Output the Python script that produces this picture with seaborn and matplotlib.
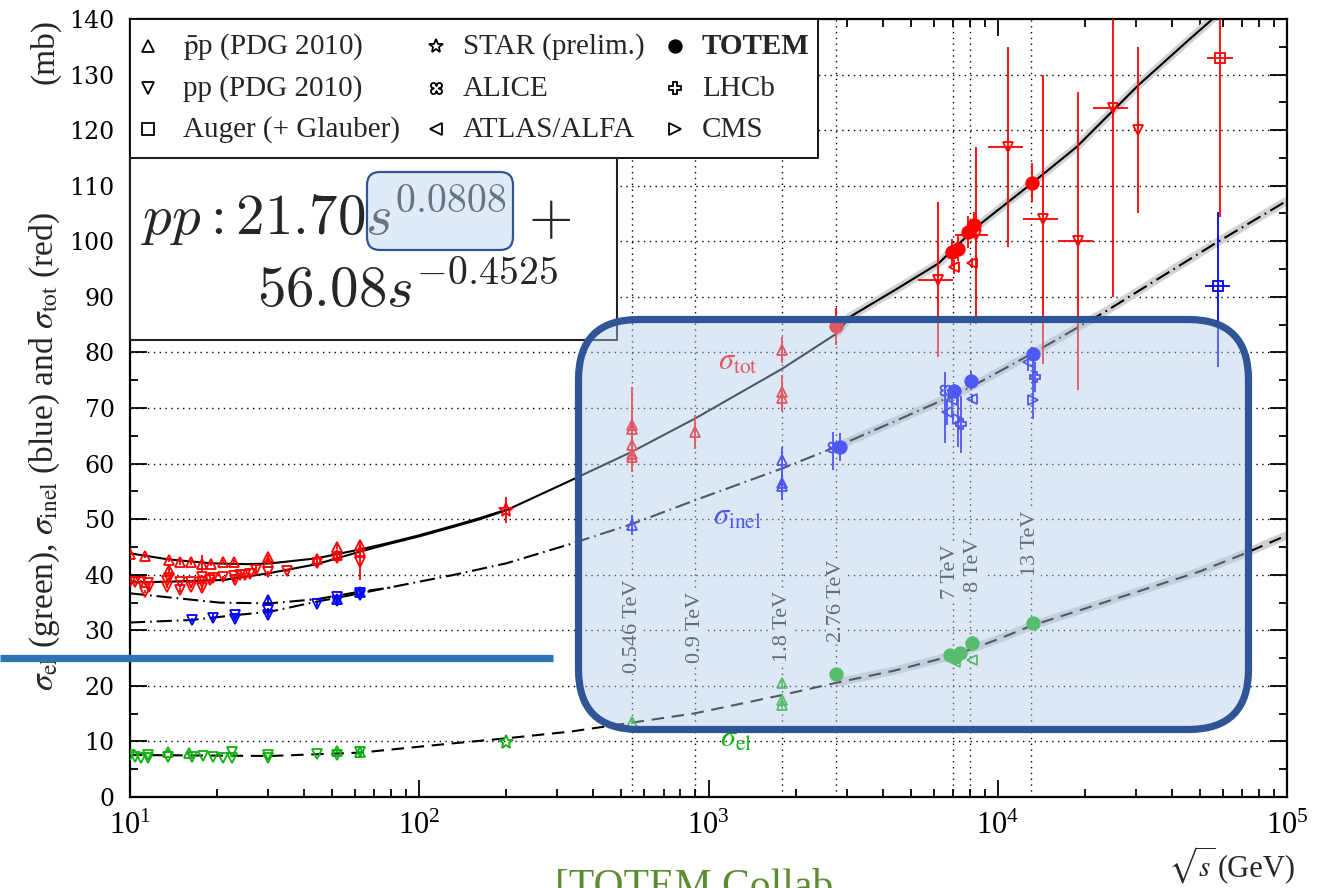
import numpy as np
import pandas as pd
import matplotlib
matplotlib.use("Agg")
import matplotlib.pyplot as plt
import seaborn as sns
from matplotlib.patches import FancyBboxPatch, Rectangle
from matplotlib.lines import Line2D
from matplotlib.path import Path
from matplotlib.ticker import MultipleLocator, LogLocator, NullFormatter, LogFormatterMathtext

# ---------------------------------------------------------------- fit curves (sqrt(s) in GeV, sigma in mb)
TOT_PP_CX = [10, 13.6, 21, 30.1, 44.2, 62.4, 76, 100, 131, 160, 200, 332, 542, 898, 1803, 2773, 3083,
             4500, 6231, 8455, 13170, 18760, 25120, 30640, 45000, 57000]
TOT_PP_CY = [38.6, 38.75, 39.05, 40.25, 41.9, 44.15, 45.35, 46.9, 48.6, 49.9, 51.6, 56.9, 62.1, 68.1,
             77.1, 83.4, 86.4, 91.5, 96.0, 102.6, 110.5, 117.0, 123.6, 128.1, 135.9, 140.6]
TOT_PBARP_CX = [10, 13.6, 19.1, 25.4, 30.1, 44.2, 62.4, 76, 100, 131, 160, 200]
TOT_PBARP_CY = [43.85, 42.75, 42.05, 41.9, 42.0, 42.95, 44.55, 45.55, 47.1, 48.8, 50.1, 51.7]

INEL_PP_CX = [10, 16.3, 23.4, 30.5, 44.2, 62.4, 131, 200, 332, 542, 898, 1803, 2773, 4355, 7070,
              8120, 13200, 16360, 23800, 56400, 100000]
INEL_PP_CY = [31.4, 31.85, 32.75, 33.35, 35.15, 36.65, 39.95, 42.05, 45.5, 49.1, 53.4, 59.15, 63.05,
              67.5, 72.35, 73.85, 79.85, 82.6, 87.5, 99.6, 107.3]
INEL_PBARP_CX = [10, 20.5, 30.5, 44.2, 62.4, 80]
INEL_PBARP_CY = [36.65, 34.97, 34.85, 35.6, 36.95, 37.7]

EL_CX = [10, 30.5, 62.4, 131, 200, 332, 542, 898, 1803, 2773, 4355, 7070, 9920, 13200, 20000,
         29420, 50000, 70600, 100000]
EL_CY = [7.56, 7.38, 7.98, 9.66, 10.56, 11.76, 13.37, 15.06, 18.36, 20.57, 22.7, 25.5, 28.3, 30.9,
         33.9, 36.7, 40.6, 43.7, 47.1]

# ---------------------------------------------------------------- total cross section (red)
TOT_PBARP_X = [10.0, 11.3, 13.6, 13.6, 14.9, 16.3, 17.8, 19.1, 21.0, 22.8, 30.1, 30.1, 44.2, 52.1,
               52.1, 62.4, 62.4, 546, 546, 546, 546, 546, 900, 1800, 1800, 1800]
TOT_PBARP_Y = [43.7, 43.4, 42.65, 40.85, 42.2, 42.2, 42.0, 41.9, 42.3, 42.2, 43.1, 42.35, 42.8, 45.05,
               43.5, 45.35, 44.3, 66.9, 66.3, 63.3, 61.8, 61.2, 65.7, 80.4, 72.9, 71.8]
TOT_PBARP_E = [0.4, 0.4, 0.4, 0.5, 0.4, 0.4, 1.5, 0.4, 0.4, 0.4, 0.4, 0.4, 0.5, 0.5,
               0.5, 0.8, 0.8, 6.9, 1.5, 1.5, 2.0, 2.7, 3.0, 2.3, 3.1, 2.4]

TOT_PP_X = [10.0, 10.4, 10.9, 11.5, 11.6, 11.3, 13.4, 13.4, 13.6, 14.9, 14.9, 16.3, 16.3, 17.8, 17.8,
            17.8, 18.9, 19.3, 21.0, 22.8, 23.1, 24.0, 25.0, 26.0, 27.2, 30.1, 34.8, 44.2, 52.1, 62.4]
TOT_PP_Y = [38.75, 38.75, 38.75, 38.45, 37.7, 36.95, 38.9, 37.85, 39.35, 38.75, 37.25, 38.75, 37.85,
            39.65, 38.75, 37.55, 39.05, 39.35, 39.5, 39.8, 39.05, 39.95, 39.95, 40.05, 40.85, 40.4,
            40.7, 42.05, 42.95, 42.3]
TOT_PP_E = [0.3, 0.3, 0.3, 0.3, 0.3, 0.3, 0.3, 0.3, 0.3, 0.3, 0.3, 0.3, 0.3, 0.3, 0.3,
            0.3, 0.3, 0.3, 0.3, 0.3, 0.3, 0.3, 0.3, 0.3, 0.9, 0.3, 0.3, 0.4, 0.5, 3.3]

TOT_STAR_X, TOT_STAR_Y, TOT_STAR_E = [200], [51.6], [2.3]
TOT_TOTEM_X = [2770, 6930, 7305, 7907, 8277, 13140]
TOT_TOTEM_Y = [84.7, 98.1, 98.7, 101.7, 102.9, 110.55]
TOT_TOTEM_E = [3.3, 2.3, 2.3, 2.9, 2.3, 3.5]
TOT_ATLAS_X, TOT_ATLAS_Y, TOT_ATLAS_E = [7060, 8128], [95.4, 96.15], [1.2, 0.9]

COSMIC_X = [6230, 8411, 10876, 14300, 18900, 24970, 30620]
COSMIC_Y = [93.0, 101.1, 117.0, 104.0, 100.1, 123.9, 120.0]
COSMIC_YLO = [79.2, 85.2, 99.0, 78.0, 73.2, 90.0, 105.0]
COSMIC_YHI = [107.1, 117.0, 135.0, 129.9, 126.9, 146.0, 135.0]
COSMIC_XLO = [5313, 7112, 9270, 12250, 16180, 21290, 30620]
COSMIC_XHI = [7020, 9270, 12250, 16180, 21400, 28120, 30620]

AUGER_TOT_X, AUGER_TOT_Y = [58680], [132.9]
AUGER_TOT_YLO, AUGER_TOT_YHI = [104.4], [160.0]
AUGER_TOT_XLO, AUGER_TOT_XHI = [52780], [65220]

# ---------------------------------------------------------------- inelastic cross section (blue)
INEL_PBARP_X = [30.1, 52.1, 62.4, 546, 1800, 1800, 1800]
INEL_PBARP_Y = [35.45, 35.6, 36.8, 48.95, 60.6, 56.45, 55.9]
INEL_PBARP_E = [0.5, 0.5, 0.5, 1.8, 2.4, 2.0, 2.5]
INEL_PP_X = [16.4, 19.4, 23.1, 23.1, 30.1, 30.1, 44.2, 52.1, 52.1, 62.4, 62.4]
INEL_PP_Y = [31.85, 32.3, 32.75, 32.0, 33.65, 32.75, 34.73, 36.05, 35.3, 36.77, 36.35]
INEL_PP_E = [0.4, 0.7, 0.4, 0.4, 0.4, 0.4, 0.4, 0.4, 0.4, 0.4, 0.4]
INEL_TOTEM_X, INEL_TOTEM_Y, INEL_TOTEM_E = [2849, 7078, 8080, 13210], [63.0, 73.06, 74.9, 79.7], [2.5, 1.3, 1.7, 1.3]
INEL_ALICE_X, INEL_ALICE_Y = [2700, 6573], [63.0, 73.2]
INEL_ALICE_ELO, INEL_ALICE_EHI = [4.2, 9.5], [2.7, 3.3]
INEL_ATLAS_X, INEL_ATLAS_Y, INEL_ATLAS_E = [6692, 6930, 8128, 12750], [69.3, 71.4, 71.7, 78.2], [2.3, 1.0, 0.8, 1.5]
INEL_CMS_X, INEL_CMS_Y = [7270, 13210], [68.1, 71.4]
INEL_CMS_ELO, INEL_CMS_EHI = [5.1, 3.3], [4.2, 6.2]
INEL_LHCB_X, INEL_LHCB_Y, INEL_LHCB_E = [7447, 13460], [67.05, 75.5], [5.1, 2.7]
AUGER_INEL_X, AUGER_INEL_Y = [57610], [92.0]
AUGER_INEL_YLO, AUGER_INEL_YHI = [77.4], [105.3]
AUGER_INEL_XLO, AUGER_INEL_XHI = [52060], [63530]

# ---------------------------------------------------------------- elastic cross section (green)
EL_PBARP_X = [13.5, 16.0, 52.1, 62.4, 546, 1800, 1800, 1800]
EL_PBARP_Y = [8.16, 7.86, 8.28, 8.04, 13.55, 20.45, 17.5, 16.6]
EL_PBARP_E = [0.3, 0.3, 0.3, 0.3, 0.4, 0.6, 0.6, 0.6]
EL_PP_X = [10.0, 10.4, 10.9, 11.5, 11.5, 13.5, 16.4, 17.9, 19.4, 20.9, 22.5, 22.5, 30.1, 30.1, 44.2, 52.1, 62.4]
EL_PP_Y = [7.56, 7.26, 7.08, 7.56, 6.96, 7.26, 7.26, 7.44, 7.14, 7.08, 7.08, 8.16, 7.56, 6.96, 7.74, 7.56, 8.04]
EL_STAR_X, EL_STAR_Y = [200], [9.95]
EL_TOTEM_X = [2770, 6840, 7113, 7405, 8128, 13210]
EL_TOTEM_Y = [22.1, 25.55, 25.25, 25.85, 27.65, 31.25]
EL_TOTEM_E = [1.0, 1.0, 1.0, 1.0, 1.3, 1.0]
EL_ATLAS_X, EL_ATLAS_Y = [7113, 8128], [24.35, 24.65]

# ---------------------------------------------------------------- collider energies
E_LINES = [546, 900, 1800, 2760, 7000, 8000, 13000]
E_LABELS = ["0.546 TeV", "0.9 TeV", "1.8 TeV", "2.76 TeV", "7 TeV", "8 TeV", "13 TeV"]
E_LABEL_Y = [22.3, 24.1, 24.3, 27.9, 35.6, 36.9, 39.8]

LEGEND_COLS = [
    [("^", r"$\bar{\mathrm{p}}$p (PDG 2010)"), ("v", "pp (PDG 2010)"), ("s", "Auger (+ Glauber)")],
    [("*", "STAR (prelim.)"), ("alice", "ALICE"), ("<", "ATLAS/ALFA")],
    [("o", "TOTEM"), ("P", "LHCb"), (">", "CMS")],
]

RED, BLUE, GREEN = "#ff0000", "#0000ff", "#10b010"

# ---------------------------------------------------------------- style
sns.set_theme(style="ticks")
plt.rcParams["font.family"] = ["Liberation Serif", "DejaVu Serif"]
plt.rcParams["mathtext.fontset"] = "stix"
plt.rcParams["lines.scale_dashes"] = False

W, H = 1332, 888
fig = plt.figure(figsize=(W / 100, H / 100), dpi=100)
fig.patch.set_facecolor("white")
ax = fig.add_axes([130 / W, 1 - 797 / H, (1287 - 130) / W, (797 - 19) / H])
ax.set_facecolor("white")


def fx(px):
    return px / W


def fy(py):
    return 1 - py / H


# four-lobed open marker
_t = np.linspace(0, 2 * np.pi, 200)
_r = 0.3 + 0.7 * np.abs(np.sin(2 * _t)) ** 0.6
ALICE_MARKER = Path(np.column_stack([_r * np.cos(_t), _r * np.sin(_t)]), closed=True)


def mk(m):
    return ALICE_MARKER if m == "alice" else m


# ---------------------------------------------------------------- axes setup
ax.set_xscale("log")
ax.set_xlim(10, 1e5)
ax.set_ylim(0, 140)

dots = (0, (1, 3.2))
for v in range(10, 140, 10):
    ax.axhline(v, color="black", lw=1.0, ls=dots, zorder=1)
for e in E_LINES:
    ax.axvline(e, color="black", lw=1.0, ls=dots, zorder=1)


def curve(xs, ys, dashes=None, band_from=None):
    df = pd.DataFrame({"x": xs, "y": ys})
    if band_from is not None:
        sub = df[df.x >= band_from]
        sns.lineplot(data=sub, x="x", y="y", ax=ax, color="#d2d2d2", linewidth=6,
                     sort=False, estimator=None, zorder=2, solid_capstyle="butt")
    sns.lineplot(data=df, x="x", y="y", ax=ax, color="black", linewidth=1.5,
                 sort=False, estimator=None, zorder=3)
    if dashes is not None:
        ax.lines[-1].set_dashes(dashes)


DASHDOT = [11, 3.5, 1.2, 3.5]
DASH = [9, 5.5]
curve(TOT_PP_CX, TOT_PP_CY, band_from=2700)
curve(TOT_PBARP_CX, TOT_PBARP_CY)
curve(INEL_PP_CX, INEL_PP_CY, DASHDOT, band_from=2700)
curve(INEL_PBARP_CX, INEL_PBARP_CY, DASHDOT)
curve(EL_CX, EL_CY, DASH, band_from=2700)


def pts(x, y, marker, color, yerr=None, xerr=None, ms=7.5, filled=False):
    x = np.asarray(x, float)
    y = np.asarray(y, float)
    if yerr is not None or xerr is not None:
        ax.errorbar(x, y, yerr=yerr, xerr=xerr, fmt="none", ecolor=color,
                    elinewidth=1.3, capsize=0, zorder=4)
    ax.plot(x, y, ls="none", marker=mk(marker), ms=ms, mfc=color if filled else "none",
            mec=color, mew=1.3, zorder=5)


def asym(v, lo, hi):
    v, lo, hi = (np.asarray(a, float) for a in (v, lo, hi))
    return np.vstack([v - lo, hi - v])


# red: total
pts(TOT_PBARP_X, TOT_PBARP_Y, "^", RED, yerr=TOT_PBARP_E)
pts(TOT_PP_X, TOT_PP_Y, "v", RED, yerr=TOT_PP_E)
pts(TOT_STAR_X, TOT_STAR_Y, "*", RED, yerr=TOT_STAR_E, ms=10)
pts(COSMIC_X, COSMIC_Y, "v", RED, yerr=asym(COSMIC_Y, COSMIC_YLO, COSMIC_YHI),
    xerr=asym(COSMIC_X, COSMIC_XLO, COSMIC_XHI), ms=6.5)
pts(AUGER_TOT_X, AUGER_TOT_Y, "s", RED, yerr=asym(AUGER_TOT_Y, AUGER_TOT_YLO, AUGER_TOT_YHI),
    xerr=asym(AUGER_TOT_X, AUGER_TOT_XLO, AUGER_TOT_XHI), ms=6.5)
pts(TOT_ATLAS_X, TOT_ATLAS_Y, "<", RED, yerr=TOT_ATLAS_E, ms=6.5)
pts(TOT_TOTEM_X, TOT_TOTEM_Y, "o", RED, yerr=TOT_TOTEM_E, ms=9, filled=True)

# blue: inelastic
pts(INEL_PBARP_X, INEL_PBARP_Y, "^", BLUE, yerr=INEL_PBARP_E)
pts(INEL_PP_X, INEL_PP_Y, "v", BLUE, yerr=INEL_PP_E)
pts(INEL_ALICE_X, INEL_ALICE_Y, "alice", BLUE, yerr=[INEL_ALICE_ELO, INEL_ALICE_EHI], ms=7)
pts(INEL_ATLAS_X, INEL_ATLAS_Y, "<", BLUE, yerr=INEL_ATLAS_E, ms=6.5)
pts(INEL_CMS_X, INEL_CMS_Y, ">", BLUE, yerr=[INEL_CMS_ELO, INEL_CMS_EHI], ms=6.5)
pts(INEL_LHCB_X, INEL_LHCB_Y, "P", BLUE, yerr=INEL_LHCB_E, ms=7)
pts(AUGER_INEL_X, AUGER_INEL_Y, "s", BLUE, yerr=asym(AUGER_INEL_Y, AUGER_INEL_YLO, AUGER_INEL_YHI),
    xerr=asym(AUGER_INEL_X, AUGER_INEL_XLO, AUGER_INEL_XHI), ms=6.5)
pts(INEL_TOTEM_X, INEL_TOTEM_Y, "o", BLUE, yerr=INEL_TOTEM_E, ms=9, filled=True)

# green: elastic
pts(EL_PBARP_X, EL_PBARP_Y, "^", GREEN, yerr=EL_PBARP_E)
pts(EL_PP_X, EL_PP_Y, "v", GREEN)
pts(EL_STAR_X, EL_STAR_Y, "*", GREEN, ms=10)
pts(EL_ATLAS_X, EL_ATLAS_Y, "<", GREEN, ms=6.5)
pts(EL_TOTEM_X, EL_TOTEM_Y, "o", GREEN, yerr=EL_TOTEM_E, ms=9, filled=True)

# collider energy labels (7 and 8 TeV nudged apart so they do not collide)
nudge_px = {"7 TeV": -2, "8 TeV": 4}
for e, lab, yb in zip(E_LINES, E_LABELS, E_LABEL_Y):
    ax.annotate(lab, xy=(e, yb), xytext=(nudge_px.get(lab, 0) * 0.72, 0), textcoords="offset points",
                rotation=90, ha="center", va="bottom", fontsize=16, color="#222222",
                bbox=dict(fc="white", ec="none", pad=0.6), zorder=6)

# curve labels
ax.text(1265, 78.3, r"$\sigma_{\mathrm{tot}}$", color=RED, fontsize=22, ha="center", va="center", zorder=6)
ax.text(1255, 50.4, r"$\sigma_{\mathrm{inel}}$", color=BLUE, fontsize=22, ha="center", va="center", zorder=6)
ax.text(1250, 10.4, r"$\sigma_{\mathrm{el}}$", color=GREEN, fontsize=22, ha="center", va="center", zorder=6)

# ticks and frame
ax.yaxis.set_major_locator(MultipleLocator(10))
ax.yaxis.set_minor_locator(MultipleLocator(5))
ax.xaxis.set_major_locator(LogLocator(base=10, numticks=10))
ax.xaxis.set_minor_locator(LogLocator(base=10, subs=np.arange(2, 10), numticks=20))
ax.xaxis.set_minor_formatter(NullFormatter())
ax.xaxis.set_major_formatter(LogFormatterMathtext())
ax.tick_params(which="both", direction="in", top=True, right=True, color="black", width=1.3)
ax.tick_params(which="major", length=12)
ax.tick_params(which="minor", length=6)
ax.tick_params(axis="y", which="major", pad=11, labelsize=17, labelcolor="black")
ax.tick_params(axis="x", which="major", pad=11, labelsize=22, labelcolor="black")
for lbl in ax.get_yticklabels():
    lbl.set_fontfamily("DejaVu Serif")
for s in ax.spines.values():
    s.set_linewidth(1.6)
    s.set_color("black")
ax.set_xlabel("")
ax.set_ylabel("")

# axis titles
fig.text(fx(45), fy(452), r"$\sigma_{\mathrm{el}}$ (green), $\sigma_{\mathrm{inel}}$ (blue) and $\sigma_{\mathrm{tot}}$ (red)",
         rotation=90, ha="center", va="center", fontsize=24, zorder=3)
fig.text(fx(45), fy(52), "(mb)", rotation=90, ha="center", va="center", fontsize=24, zorder=3)
fig.text(fx(1168), fy(876), r"$\sqrt{s}$", fontsize=21, va="baseline", zorder=3)
fig.text(fx(1218), fy(876), "(GeV)", fontsize=22, va="baseline", zorder=3)
fig.text(fx(555), fy(868), "[TOTEM Collab", fontsize=30, va="top", color="#5b8c32", zorder=3)

# legend box
fig.add_artist(Rectangle((fx(130), fy(158)), fx(818) - fx(130), fy(19) - fy(158),
                         transform=fig.transFigure, fc="white", ec="black", lw=1.3, zorder=1))
row_y = [46, 88, 129]
mark_x = [148, 436, 675]
text_x = [183, 463, 702]
for c, entries in enumerate(LEGEND_COLS):
    for r, (m, label) in enumerate(entries):
        filled = m == "o"
        fig.add_artist(Line2D([fx(mark_x[c])], [fy(row_y[r])], transform=fig.transFigure,
                              marker=mk(m), ms=10 if m == "*" else (9 if filled else 8),
                              mfc="black" if filled else "none", mec="black", mew=1.3,
                              ls="none", zorder=2))
        fig.text(fx(text_x[c]), fy(row_y[r] + 8), label, fontsize=21, va="baseline",
                 fontweight="bold" if label == "TOTEM" else "normal", zorder=3)

# formula box
fig.add_artist(Rectangle((fx(130), fy(340)), fx(617) - fx(130), fy(158) - fy(340),
                         transform=fig.transFigure, fc="white", ec="#222222", lw=1.5, zorder=1))
fig.text(fx(141), fy(235), r"$pp:21.70s^{0.0808}\,+$", fontsize=41, va="baseline",
         math_fontfamily="cm", zorder=3)
fig.text(fx(257), fy(307), r"$56.08s^{-0.4525}$", fontsize=41, va="baseline",
         math_fontfamily="cm", zorder=3)

# highlight boxes
fig.add_artist(FancyBboxPatch((3.67, (H - 250) / 100), 1.46, 0.78,
                              boxstyle="round,pad=0,rounding_size=0.13",
                              transform=fig.dpi_scale_trans, fc=(0.73, 0.84, 0.94, 0.45),
                              ec="#2f5597", lw=1.6, zorder=6))
fig.add_artist(FancyBboxPatch((5.785, (H - 729.5) / 100), 6.70, 4.10,
                              boxstyle="round,pad=0,rounding_size=0.6",
                              transform=fig.dpi_scale_trans, fc=(0.70, 0.80, 0.91, 0.44),
                              ec="#2f5597", lw=5.2, zorder=5))
fig.add_artist(Line2D([0, fx(553)], [fy(658), fy(658)], transform=fig.transFigure,
                      color="#2e75b6", lw=5.2, solid_capstyle="butt", zorder=7))

fig.savefig("out.png", dpi=100, facecolor="white")
